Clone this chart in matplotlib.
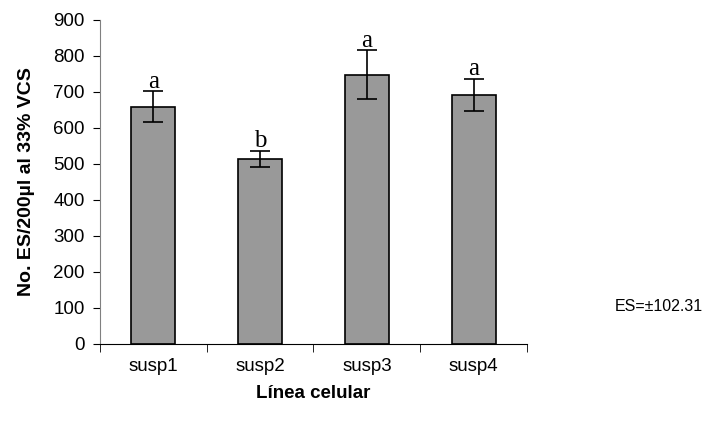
import matplotlib.pyplot as plt
import numpy as np

# data
lines = ['susp1', 'susp2', 'susp3', 'susp4']
means = [659, 514, 748, 692]
errs = [43, 22, 67, 44]
letters = ['a', 'b', 'a', 'a']

x = np.arange(len(lines))

fig = plt.figure(figsize=(7.24, 4.23), dpi=100)
ax = fig.add_axes([0.138, 0.187, 0.59, 0.766])

ax.bar(x, means, width=0.41, color='#999999', edgecolor='black', linewidth=1.2,
       yerr=errs, error_kw=dict(ecolor='black', elinewidth=1.2, capsize=7, capthick=1.2))

for xi, m, e, l in zip(x, means, errs, letters):
    ax.text(xi, m + e - 4, l, ha='center', va='bottom', fontsize=18,
            family='Liberation Serif')

ax.set_xlim(-0.5, 3.5)
ax.set_ylim(0, 900)
ax.set_yticks(np.arange(0, 901, 100))
ax.set_xticks(x)
ax.set_xticklabels(lines)
ax.set_xticks(np.arange(-0.5, 4, 1), minor=True)
ax.tick_params(axis='x', which='major', length=0, pad=10)
ax.tick_params(axis='x', which='minor', length=6, direction='out')
ax.tick_params(axis='y', length=5, direction='out', pad=6)

for lab in ax.get_xticklabels() + ax.get_yticklabels():
    lab.set_family('Liberation Sans')
    lab.set_fontsize(13.5)

ax.spines['top'].set_visible(False)
ax.spines['right'].set_visible(False)
ax.spines['left'].set_color('#808080')

ax.set_ylabel('No. ES/200µl al 33% VCS', family='Liberation Sans', fontsize=14,
              fontweight='bold', labelpad=13)
ax.set_xlabel('Línea celular', family='Liberation Sans', fontsize=13.5,
              fontweight='bold', labelpad=7)

fig.text(0.849, 0.275, 'ES=±102.31', family='Liberation Sans', fontsize=11.5,
         va='center', ha='left')

fig.savefig('out.png', dpi=100)
